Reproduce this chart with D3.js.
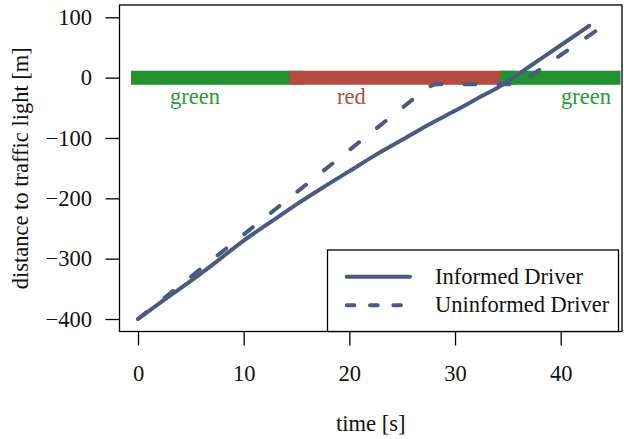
<!DOCTYPE html>
<html>
<head>
<meta charset="utf-8">
<script src="https://cdn.jsdelivr.net/npm/d3@7"></script>
<style>
  html, body { margin: 0; padding: 0; background: #ffffff; }
  svg { display: block; font-family: "Liberation Serif", "Times New Roman", serif; }
</style>
</head>
<body>
<svg id="chart" width="624" height="439"></svg>
<script>
// ---- data ----
const xTicks = [0, 10, 20, 30, 40];
const yTicks = [-400, -300, -200, -100, 0, 100];

const timeInformed = [0, 2.5, 5, 7.5, 10, 12.5, 15, 17.5, 20, 22.5, 25, 27.5, 30, 32.5, 34.5, 36, 38, 40, 42.7];
const distInformed = [-400, -368, -337, -304, -270, -240, -210, -182, -155, -128, -103, -78, -55, -31, -12, 5.9, 29.8, 53.7, 86];

const timeUninformed = [0, 5, 10, 15, 20, 24, 25.8, 26.5, 27.2, 27.7, 28.1, 28.5, 35.6, 36, 36.5, 37, 37.5, 38, 39, 40, 41, 42, 43, 43.6];
const distUninformed = [-400, -330, -260, -190, -120, -64, -39, -29, -20, -14, -11.5, -11, -11, -9.5, -5, 1, 7.5, 13.5, 25.5, 37.5, 49.5, 61.5, 73.5, 80.5];

const phaseStart = [0, 15, 35];
const phaseEnd = [15, 35, 45];
const phaseName = ["green", "red", "green"];
const phaseLabelT = [5.4, 20.2, 42.4];

const seriesNames = ["Informed Driver", "Uninformed Driver"];

// ---- styles ----
const lineColor = "#4a5b82";
const phaseColor = { green: "#21922f", red: "#b34b40" };
const phaseTextColor = { green: "#2a9a36", red: "#b84c42" };
const fontSize = 22.5;

// ---- layout ----
const svg = d3.select("#chart");
const box = { left: 119.5, right: 622, top: 5, bottom: 331.5 };

const x = d3.scaleLinear().domain([0, 40]).range([138, 560.7]);
const y = d3.scaleLinear().domain([-400, 100]).range([319, 17.3]);

// traffic light phases
const phases = phaseStart.map((s, i) => ({ s, e: phaseEnd[i], name: phaseName[i], lt: phaseLabelT[i] }));
svg.append("g").selectAll("line").data(phases).join("line")
  .attr("x1", d => x(d.s)).attr("x2", d => x(d.e))
  .attr("y1", y(0)).attr("y2", y(0))
  .attr("stroke", d => phaseColor[d.name])
  .attr("stroke-width", 14)
  .attr("stroke-linecap", "square");

svg.append("g").selectAll("text").data(phases).join("text")
  .attr("x", d => x(d.lt)).attr("y", 104)
  .attr("text-anchor", "middle")
  .attr("font-size", fontSize)
  .attr("fill", d => phaseTextColor[d.name])
  .text(d => d.name);

// lines
const lineGen = d3.line().x(d => x(d[0])).y(d => y(d[1])).curve(d3.curveMonotoneX);
const informed = timeInformed.map((t, i) => [t, distInformed[i]]);
const uninformed = timeUninformed.map((t, i) => [t, distUninformed[i]]);

svg.append("path").datum(uninformed)
  .attr("d", lineGen).attr("fill", "none")
  .attr("stroke", lineColor).attr("stroke-width", 4)
  .attr("stroke-linecap", "round").attr("stroke-linejoin", "round")
  .attr("stroke-dasharray", "11,23");

svg.append("path").datum(informed)
  .attr("d", lineGen).attr("fill", "none")
  .attr("stroke", lineColor).attr("stroke-width", 4)
  .attr("stroke-linecap", "round").attr("stroke-linejoin", "round");

// axes
const xAxis = svg.append("g").attr("transform", `translate(0,${box.bottom})`)
  .call(d3.axisBottom(x).tickValues(xTicks).tickSize(14).tickPadding(20));
const yAxis = svg.append("g").attr("transform", `translate(${box.left},0)`)
  .call(d3.axisLeft(y).tickValues(yTicks).tickSize(14).tickPadding(13.6));
[xAxis, yAxis].forEach(g => {
  g.select(".domain").remove();
  g.selectAll("line").attr("stroke", "#000").attr("stroke-width", 1.3);
  g.selectAll("text").attr("font-size", fontSize).attr("fill", "#111")
    .attr("font-family", "Liberation Serif, serif");
});

// box
svg.append("rect")
  .attr("x", box.left).attr("y", box.top)
  .attr("width", box.right - box.left).attr("height", box.bottom - box.top)
  .attr("fill", "none").attr("stroke", "#000").attr("stroke-width", 1.3);

// axis titles
svg.append("text")
  .attr("x", (box.left + box.right) / 2).attr("y", 431)
  .attr("text-anchor", "middle").attr("font-size", fontSize).attr("fill", "#111")
  .text("time [s]");
svg.append("text")
  .attr("transform", `translate(28,${(box.top + box.bottom) / 2}) rotate(-90)`)
  .attr("text-anchor", "middle").attr("font-size", fontSize).attr("fill", "#111")
  .text("distance to traffic light [m]");

// legend
const leg = { left: 327.5, top: 250, right: 618.5, bottom: 331.5 };
svg.append("rect")
  .attr("x", leg.left).attr("y", leg.top)
  .attr("width", leg.right - leg.left).attr("height", leg.bottom - leg.top)
  .attr("fill", "#fff").attr("stroke", "#000").attr("stroke-width", 1.3);
const legRows = [
  { name: seriesNames[0], dash: null, cy: 276.7, x2: 410 },
  { name: seriesNames[1], dash: "7.7,15.6", cy: 305.2, x2: 403.3 }
];
legRows.forEach(r => {
  svg.append("line")
    .attr("x1", 346.7).attr("x2", r.x2).attr("y1", r.cy).attr("y2", r.cy)
    .attr("stroke", lineColor).attr("stroke-width", 4)
    .attr("stroke-linecap", "round")
    .attr("stroke-dasharray", r.dash);
  svg.append("text")
    .attr("x", 435).attr("y", r.cy).attr("dy", "0.32em")
    .attr("font-size", fontSize).attr("fill", "#111")
    .text(r.name);
});
</script>
</body>
</html>
